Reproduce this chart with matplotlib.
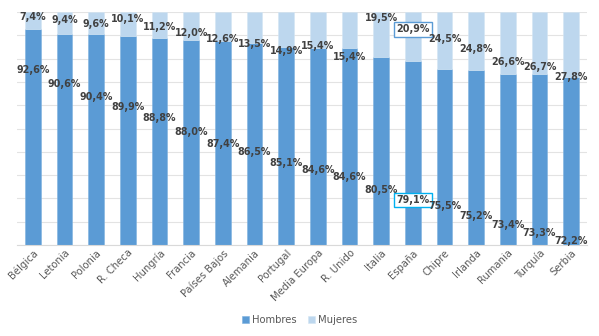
import matplotlib
matplotlib.use("Agg")
import matplotlib.pyplot as plt
import numpy as np

categories = ["Bélgica", "Letonia", "Polonia", "R. Checa", "Hungría", "Francia",
              "Países Bajos", "Alemania", "Portugal", "Media Europa", "R. Unido",
              "Italia", "España", "Chipre", "Irlanda", "Rumania", "Turquía", "Serbia"]
hombres = [92.6, 90.6, 90.4, 89.9, 88.8, 88.0, 87.4, 86.5, 85.1, 84.6, 84.6,
           80.5, 79.1, 75.5, 75.2, 73.4, 73.3, 72.2]
mujeres = [7.4, 9.4, 9.6, 10.1, 11.2, 12.0, 12.6, 13.5, 14.9, 15.4, 15.4,
           19.5, 20.9, 24.5, 24.8, 26.6, 26.7, 27.8]

# label placement (layout, data units of the y axis)
hombres_label_y = [75.1, 69.1, 63.5, 59.2, 54.5, 48.5, 43.3, 39.9, 35.2, 32.2, 29.2,
                   23.6, 19.3, 16.7, 12.4, 8.6, 5.2, 1.7]
mujeres_label_y = [97.9, 96.6, 94.8, 97.0, 93.6, 91.0, 88.4, 86.3, 83.3, 85.4, 80.7,
                   97.4, 92.5, 88.4, 84.1, 78.5, 76.4, 72.1]

c_h = "#5B9BD5"
c_m = "#BDD7EE"
txt = "#404040"

fig = plt.figure(figsize=(5.99, 3.36), dpi=100)
ax = fig.add_axes([17/599, 1 - 245/336, (587-17)/599, (245-12)/336])

x = np.arange(len(categories))
ax.bar(x, hombres, width=0.5, color=c_h, edgecolor="#7FB2E0", linewidth=0.4, label="Hombres", zorder=2)
ax.bar(x, mujeres, width=0.5, bottom=hombres, color=c_m, edgecolor="#D4E5F4", linewidth=0.4, label="Mujeres", zorder=2)

ax.set_xlim(-0.5, len(categories) - 0.5)
ax.set_ylim(0, 100)
ax.set_yticks(np.arange(0, 101, 10))
ax.yaxis.grid(True, color="#E3E3E3", linewidth=0.8, zorder=0)
ax.tick_params(axis="y", left=False, labelleft=False)
ax.tick_params(axis="x", length=0, pad=2)
for s in ["top", "right", "left"]:
    ax.spines[s].set_visible(False)
ax.spines["bottom"].set_color("#D9D9D9")

ax.set_xticks(x)
ax.set_xticklabels(categories, rotation=45, ha="right", rotation_mode="anchor",
                   fontsize=7.2, color="#595959")

def fmt(v):
    return f"{v:.1f}%".replace(".", ",")

for i in range(len(categories)):
    bbox_h = None
    bbox_m = None
    if categories[i] == "España":
        bbox_h = dict(boxstyle="square,pad=0.25", fc="white", ec="#00B0F0", lw=1.0)
        bbox_m = dict(boxstyle="square,pad=0.25", fc="white", ec="#5B9BD5", lw=1.0)
    ax.text(x[i], hombres_label_y[i], fmt(hombres[i]), ha="center", va="center",
            fontsize=6.9, fontweight="bold", color=txt, bbox=bbox_h, zorder=5)
    ax.text(x[i], mujeres_label_y[i], fmt(mujeres[i]), ha="center", va="center",
            fontsize=6.9, fontweight="bold", color=txt, bbox=bbox_m, zorder=5)

fig.legend(loc="center", bbox_to_anchor=(0.5, 1 - 320/336), ncol=2, frameon=False,
           fontsize=7.2, handlelength=0.7, handleheight=0.7, handletextpad=0.3,
           columnspacing=1.2, labelcolor="#595959")

fig.savefig("out.png", dpi=100)
